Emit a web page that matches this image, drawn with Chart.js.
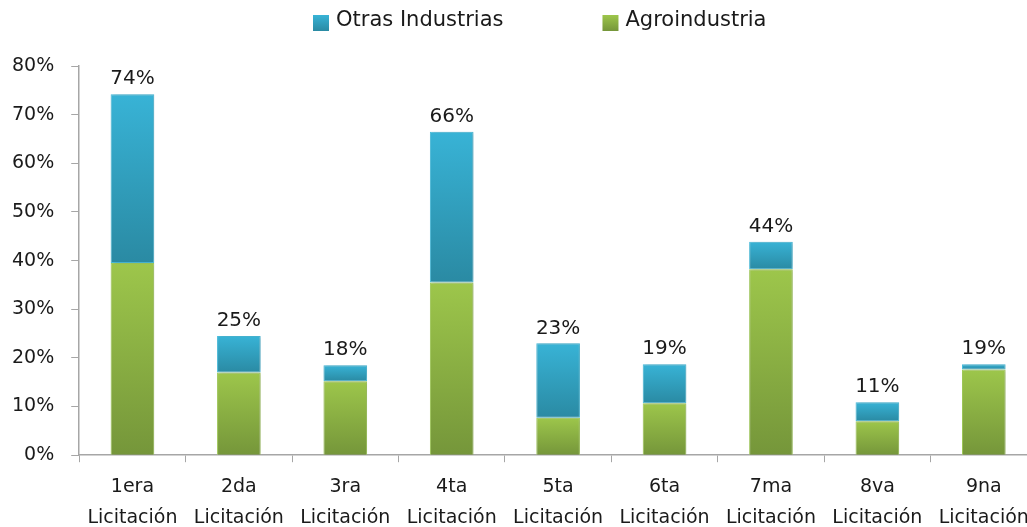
<!DOCTYPE html>
<html>
<head>
<meta charset="utf-8">
<script src="https://cdn.jsdelivr.net/npm/chart.js@4/dist/chart.umd.min.js"></script>
<style>
  html, body { margin: 0; padding: 0; background: #fff; overflow: hidden; }
  #wrap { width: 1045px; height: 527px; }
</style>
</head>
<body>
<div id="wrap"><canvas id="myChart"></canvas></div>
<script>
const categories = [
  ['1era', 'Licitación'], ['2da', 'Licitación'], ['3ra', 'Licitación'],
  ['4ta', 'Licitación'], ['5ta', 'Licitación'], ['6ta', 'Licitación'],
  ['7ma', 'Licitación'], ['8va', 'Licitación'], ['9na', 'Licitación']
];
const agroindustria = [39.5, 17, 15.2, 35.5, 7.7, 10.7, 38.2, 7, 17.6];
const otrasIndustrias = [34.7, 7.5, 3.3, 31, 15.3, 8, 5.7, 3.9, 1.1];
const totalLabels = ['74%', '25%', '18%', '66%', '23%', '19%', '44%', '11%', '19%'];
const yTicks = [0, 10, 20, 30, 40, 50, 60, 70, 80];

const FONT = "'DejaVu Sans', sans-serif";
const GREEN = ['#9dc64b', '#75963a'];
const BLUE = ['#38b3d6', '#2a8aa3'];

// gradient per segment, from top of segment (light) to its base (dark)
const segmentGradient = (colors, from, to) => c => {
  const chart = c.chart;
  const y = chart.scales.y;
  if (c.type !== 'data' || !y) return colors[0];
  const top = y.getPixelForValue(to[c.dataIndex] + (from ? from[c.dataIndex] : 0));
  const bot = y.getPixelForValue(from ? from[c.dataIndex] : 0);
  if (!isFinite(top) || !isFinite(bot) || top === bot) return colors[0];
  const g = chart.ctx.createLinearGradient(0, top, 0, bot);
  g.addColorStop(0, colors[0]);
  g.addColorStop(1, colors[1]);
  return g;
};

const legendItems = [
  { text: 'Otras Industrias', colors: BLUE },
  { text: 'Agroindustria', colors: GREEN }
];

const customLegend = {
  id: 'customLegend',
  afterDraw(chart) {
    const ctx = chart.ctx;
    ctx.save();
    ctx.font = '21px ' + FONT;
    ctx.textBaseline = 'middle';
    let x = 313;
    legendItems.forEach(item => {
      const g = ctx.createLinearGradient(0, 15, 0, 31);
      g.addColorStop(0, item.colors[0]);
      g.addColorStop(1, item.colors[1]);
      ctx.fillStyle = g;
      ctx.fillRect(x, 15, 16, 16);
      ctx.fillStyle = '#1a1a1a';
      ctx.fillText(item.text, x + 23, 21);
      x += 23 + ctx.measureText(item.text).width + 99;
    });
    ctx.restore();
  }
};

const totalsPlugin = {
  id: 'totals',
  afterDatasetsDraw(chart) {
    const ctx = chart.ctx;
    const meta = chart.getDatasetMeta(1);
    ctx.save();
    ctx.font = '20px ' + FONT;
    ctx.fillStyle = '#1a1a1a';
    ctx.textAlign = 'center';
    ctx.textBaseline = 'middle';
    meta.data.forEach((bar, i) => {
      ctx.fillText(totalLabels[i], bar.x, bar.y - 15);
    });
    ctx.restore();
  }
};

const shadowPlugin = {
  id: 'barShadow',
  beforeDatasetsDraw(chart) {
    const ctx = chart.ctx;
    ctx.save();
    ctx.shadowColor = 'rgba(0,0,0,0.22)';
    ctx.shadowBlur = 4;
    ctx.shadowOffsetX = 1;
  },
  afterDatasetsDraw(chart) {
    chart.ctx.restore();
  }
};

const ctx = document.getElementById('myChart').getContext('2d');
new Chart(ctx, {
  type: 'bar',
  data: {
    labels: categories,
    datasets: [{
      label: 'Agroindustria',
      data: agroindustria,
      backgroundColor: segmentGradient(GREEN, null, agroindustria),
      borderColor: '#a6d15c',
      borderWidth: 1,
      borderSkipped: 'bottom',
      barPercentage: 0.41,
      categoryPercentage: 1
    }, {
      label: 'Otras Industrias',
      data: otrasIndustrias,
      backgroundColor: segmentGradient(BLUE, agroindustria, otrasIndustrias),
      borderColor: '#4cc2e2',
      borderWidth: 1,
      borderSkipped: false,
      barPercentage: 0.41,
      categoryPercentage: 1
    }]
  },
  options: {
    responsive: true,
    maintainAspectRatio: false,
    animation: false,
    layout: { padding: { top: 66, left: -5, right: 8, bottom: -16 } },
    plugins: {
      legend: { display: false },
      tooltip: { enabled: false }
    },
    scales: {
      x: {
        stacked: true,
        border: { color: '#a6a6a6', width: 1.5 },
        grid: { drawOnChartArea: false, tickLength: 7, color: '#a6a6a6' },
        ticks: { color: '#1a1a1a', font: { family: FONT, size: 19, lineHeight: 1.6 }, padding: 10, maxRotation: 0, autoSkip: false }
      },
      y: {
        stacked: true,
        min: 0,
        max: 80,
        afterBuildTicks: axis => { axis.ticks = yTicks.map(v => ({ value: v })); },
        border: { color: '#a6a6a6', width: 1.5 },
        grid: { drawOnChartArea: false, tickLength: 8, color: '#a6a6a6' },
        ticks: { color: '#1a1a1a', font: { family: FONT, size: 19 }, padding: 17, callback: v => v + '%' }
      }
    }
  },
  plugins: [shadowPlugin, totalsPlugin, customLegend]
});
</script>
</body>
</html>
